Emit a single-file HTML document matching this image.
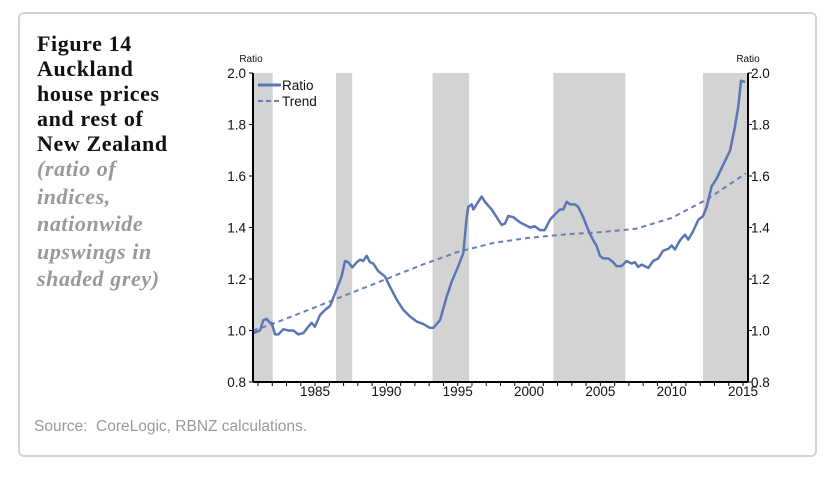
<!DOCTYPE html>
<html><head><meta charset="utf-8"><style>
body{margin:0;background:#fff;width:827px;height:480px;position:relative;overflow:hidden;font-family:"Liberation Sans",sans-serif}
.frame{position:absolute;left:18px;top:12px;width:799px;height:445px;border:2px solid #d4d4d4;border-radius:6px;box-sizing:border-box}
.t{position:absolute;left:37px;font-family:"Liberation Serif",serif;font-weight:bold;font-size:22px;letter-spacing:0.6px;color:#111;white-space:nowrap;line-height:1}
.g{color:#999;font-style:italic}
.src{position:absolute;left:34px;top:418px;font-size:15.5px;color:#999}
</style></head><body>
<div class="frame"></div>
<div>
<div class="t" style="top:33px">Figure 14</div>
<div class="t" style="top:58px">Auckland</div>
<div class="t" style="top:83px">house prices</div>
<div class="t" style="top:108px">and rest of</div>
<div class="t" style="top:133px">New Zealand</div>
<div class="t g" style="top:158px">(ratio of</div>
<div class="t g" style="top:186px">indices,</div>
<div class="t g" style="top:213px">nationwide</div>
<div class="t g" style="top:241px">upswings in</div>
<div class="t g" style="top:268px">shaded grey)</div>
</div>
<div class="src">Source:&nbsp; CoreLogic, RBNZ calculations.</div>
<svg id="chart" width="827" height="480" style="position:absolute;left:0;top:0"></svg>
<script>
const shadeStarts=[1980.65,1986.47,1993.24,2001.7,2012.2];
const shadeEnds=[1982.03,1987.6,1995.8,2006.75,2015.35];
const ratioYears=[1980.67,1981.14,1981.37,1981.61,1981.84,1981.96,1982.19,1982.43,1982.78,1983.13,1983.48,1983.83,1984.18,1984.53,1984.76,1984.99,1985.35,1985.7,1986.05,1986.16,1986.51,1986.86,1987.1,1987.33,1987.61,1987.92,1988.15,1988.38,1988.62,1988.85,1989.08,1989.44,1989.9,1990.25,1990.72,1991.19,1991.65,1992.12,1992.59,1993.06,1993.29,1993.76,1994.22,1994.58,1995.04,1995.39,1995.63,1995.74,1995.98,1996.1,1996.44,1996.68,1996.91,1997.22,1997.38,1997.73,1998.08,1998.31,1998.55,1998.9,1999.37,1999.72,2000.07,2000.4,2000.77,2001.1,2001.47,2001.8,2002.17,2002.4,2002.64,2002.87,2003.2,2003.45,2003.8,2004.15,2004.5,2004.73,2004.97,2005.2,2005.55,2005.9,2006.13,2006.48,2006.84,2007.19,2007.42,2007.65,2007.9,2008.36,2008.7,2009.06,2009.4,2009.76,2010.0,2010.23,2010.58,2010.93,2011.16,2011.5,2011.87,2012.2,2012.45,2012.8,2013.15,2013.62,2014.1,2014.43,2014.67,2014.86,2015.14];
const ratioValues=[0.99,1.0,1.04,1.045,1.03,1.03,0.985,0.985,1.005,1.0,1.0,0.985,0.99,1.015,1.03,1.015,1.06,1.08,1.095,1.11,1.16,1.21,1.27,1.265,1.245,1.265,1.275,1.27,1.29,1.265,1.26,1.23,1.21,1.17,1.12,1.08,1.055,1.035,1.025,1.01,1.01,1.04,1.13,1.19,1.25,1.3,1.44,1.48,1.49,1.47,1.5,1.52,1.5,1.48,1.47,1.44,1.41,1.415,1.445,1.44,1.42,1.41,1.4,1.405,1.39,1.39,1.43,1.45,1.47,1.47,1.5,1.49,1.49,1.48,1.44,1.39,1.35,1.33,1.29,1.28,1.28,1.265,1.25,1.25,1.27,1.26,1.265,1.247,1.256,1.243,1.27,1.28,1.31,1.317,1.33,1.315,1.35,1.372,1.353,1.385,1.43,1.444,1.48,1.56,1.59,1.645,1.7,1.79,1.87,1.97,1.965];
const trendYears=[1980.65,1982,1985,1987.5,1990,1992.5,1995,1997.5,2000,2002.5,2005,2007.5,2010,2012.5,2015.2];
const trendValues=[1.0,1.025,1.09,1.145,1.2,1.255,1.305,1.34,1.36,1.373,1.382,1.395,1.437,1.51,1.61];
const yTicks=[0.8,1.0,1.2,1.4,1.6,1.8,2.0];
const xTickLabels=[1985,1990,1995,2000,2005,2010,2015];

const L=253,R=748,T=73,B=382,X0=1980.65,X1=2015.35,Y0=0.8,Y1=2.0;
const xs=v=>L+(v-X0)/(X1-X0)*(R-L);
const ys=v=>B-(v-Y0)/(Y1-Y0)*(B-T);
const svg=document.getElementById('chart');
const NS='http://www.w3.org/2000/svg';
function mk(tag,attrs,parent){const e=document.createElementNS(NS,tag);for(const k in attrs)e.setAttribute(k,attrs[k]);(parent||svg).appendChild(e);return e;}
shadeStarts.forEach((s,i)=>{
 const r=mk('rect',{x:xs(s),y:T,width:xs(shadeEnds[i])-xs(s),height:B-T,fill:'#d3d3d3'});
 
 
});
const tp=mk('polyline',{points:trendYears.map((y,i)=>xs(y)+','+ys(trendValues[i])).join(' '),fill:'none',stroke:'#6a7fb8','stroke-width':2,'stroke-dasharray':'5,4'});


const rp=mk('polyline',{points:ratioYears.map((y,i)=>xs(y)+','+ys(ratioValues[i])).join(' '),fill:'none',stroke:'#5b76b5','stroke-width':2.5,'stroke-linejoin':'round'});


mk('line',{x1:L,y1:T,x2:L,y2:B,stroke:'#000','stroke-width':2});
mk('line',{x1:R,y1:T,x2:R,y2:B,stroke:'#000','stroke-width':2});
mk('line',{x1:L,y1:B,x2:R,y2:B,stroke:'#000','stroke-width':2});
yTicks.forEach(v=>{
 mk('line',{x1:L-4,y1:ys(v),x2:L,y2:ys(v),stroke:'#000'});
 mk('line',{x1:R,y1:ys(v),x2:R+4,y2:ys(v),stroke:'#000'});
 const a=mk('text',{x:L-7,y:ys(v)+5,'text-anchor':'end','font-size':13.5,fill:'#111'});a.textContent=v.toFixed(1);
 
 
 const b=mk('text',{x:R+3,y:ys(v)+5,'text-anchor':'start','font-size':13.5,fill:'#111'});b.textContent=v.toFixed(1);
 
 
});
for(let y=1981;y<=2015;y++){mk('line',{x1:xs(y),y1:B,x2:xs(y),y2:B+4,stroke:'#000'});}
xTickLabels.forEach(y=>{
 const t=mk('text',{x:xs(y),y:B+14,'text-anchor':'middle','font-size':13.5,fill:'#111'});t.textContent=y;
 
 
});
const ra=mk('text',{x:251,y:62,'text-anchor':'middle','font-size':10,fill:'#111'});ra.textContent='Ratio';


const rb=mk('text',{x:748,y:62,'text-anchor':'middle','font-size':10,fill:'#111'});rb.textContent='Ratio';


const lg=mk('g',{});


mk('line',{x1:258,y1:85,x2:281,y2:85,stroke:'#5b76b5','stroke-width':3},lg);
const l1=mk('text',{x:282,y:90,'font-size':13.5,fill:'#111'},lg);l1.textContent='Ratio';
mk('line',{x1:258,y1:101,x2:281,y2:101,stroke:'#6a7fb8','stroke-width':2,'stroke-dasharray':'5,3'},lg);
const l2=mk('text',{x:282,y:106,'font-size':13.5,fill:'#111'},lg);l2.textContent='Trend';
</script>
</body></html>
